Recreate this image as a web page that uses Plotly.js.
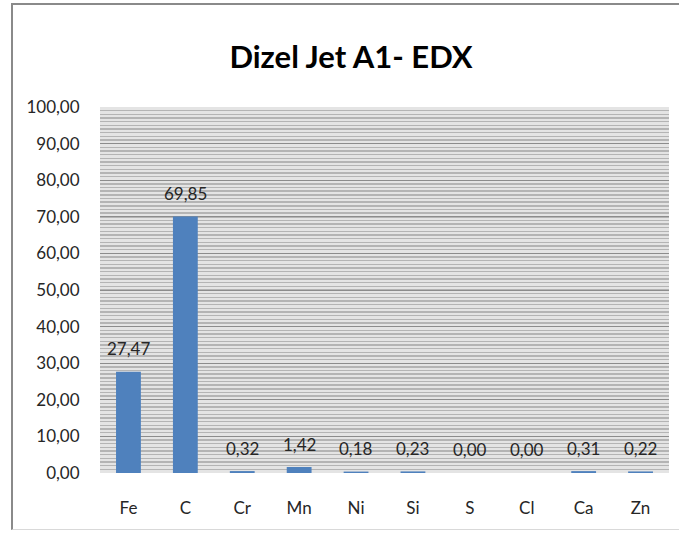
<!DOCTYPE html>
<html>
<head>
<meta charset="utf-8">
<script src="https://cdn.plot.ly/plotly-3.0.1.min.js"></script>
<style>
  html, body { margin: 0; padding: 0; background: #ffffff; overflow: hidden; }
  #wrap { position: relative; width: 679px; height: 534px; overflow: hidden; }
  #chart { position: absolute; left: 0; top: 0; width: 679px; height: 534px; }
  #frame { position: absolute; left: 11px; top: 3px; width: 668px; height: 527px;
           border-top: 2px solid #8a8a8a; border-left: 2px solid #8a8a8a;
           border-bottom: 1px solid #d9d9d9; border-right: none;
           box-sizing: border-box; pointer-events: none; }
</style>
</head>
<body>
<div id="wrap">
  <div id="chart"></div>
  <div id="frame"></div>
</div>
<script>
const categories = ["Fe", "C", "Cr", "Mn", "Ni", "Si", "S", "Cl", "Ca", "Zn"];
const values = [27.47, 69.85, 0.32, 1.42, 0.18, 0.23, 0.00, 0.00, 0.31, 0.22];
const yTickValues = [0, 10, 20, 30, 40, 50, 60, 70, 80, 90, 100];
const chartTitle = "Dizel Jet A1- EDX";

const fontFamily = "Lato, 'Open Sans', sans-serif";
const barColor = "#4F81BD";
const textColor = "#262626";

const fmt = v => v.toFixed(2).replace(".", ",");

const trace = {
  type: "bar",
  x: categories,
  y: values,
  marker: {
    color: barColor,
    line: { color: barColor, width: values.map(v => v > 0 ? 1.5 : 0) }
  },
  hoverinfo: "none"
};

const labelAnnotations = categories.map((c, i) => ({
  x: c,
  y: values[i],
  xref: "x",
  yref: "y",
  text: fmt(values[i]),
  showarrow: false,
  xanchor: "center",
  yanchor: "bottom",
  yshift: 11,
  font: { family: fontFamily, size: 17, color: textColor }
}));

const layout = {
  width: 679,
  height: 534,
  separators: ",.",
  paper_bgcolor: "rgba(0,0,0,0)",
  plot_bgcolor: "#e4e4e4",
  margin: { l: 100, r: 10, t: 107, b: 61 },
  bargap: 0.59,
  showlegend: false,
  annotations: labelAnnotations,
  title: {
    text: "<b>" + chartTitle + "</b>",
    font: { family: fontFamily, size: 31, color: "#000000" },
    xref: "container", x: 0.517, xanchor: "center",
    yref: "container", y: 0.893, yanchor: "middle"
  },
  xaxis: {
    type: "category",
    showgrid: false,
    zeroline: false,
    showline: false,
    ticks: "outside",
    ticklen: 20,
    tickcolor: "rgba(0,0,0,0)",
    tickfont: { family: fontFamily, size: 17, color: textColor }
  },
  yaxis: {
    range: [0, 100],
    tickvals: yTickValues,
    tickformat: ".2f",
    showgrid: true,
    gridcolor: "#8c8c8c",
    gridwidth: 1,
    zeroline: false,
    showline: false,
    ticks: "outside",
    ticklen: 16,
    tickcolor: "rgba(0,0,0,0)",
    tickfont: { family: fontFamily, size: 17, color: textColor },
    minor: {
      dtick: 1,
      showgrid: true,
      gridcolor: "#b4b4b4",
      gridwidth: 1.4
    }
  }
};

Plotly.newPlot("chart", [trace], layout, { displayModeBar: false, staticPlot: true });
</script>
</body>
</html>
